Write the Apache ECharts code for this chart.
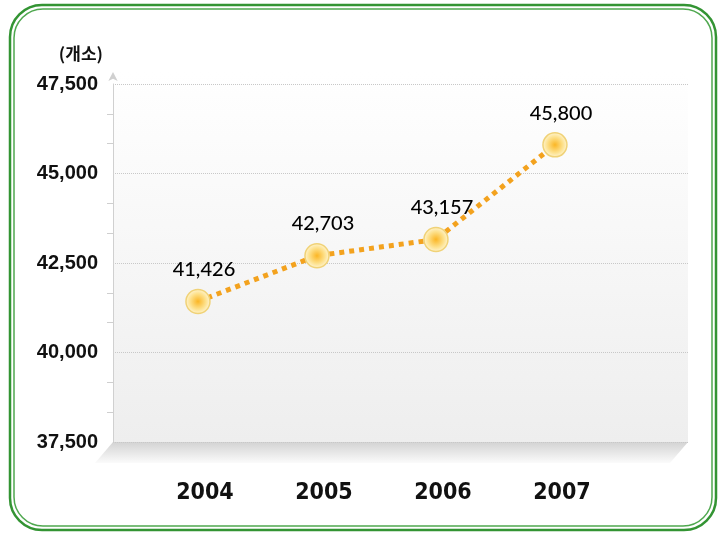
<!DOCTYPE html>
<html>
<head>
<meta charset="utf-8">
<script src="https://cdn.jsdelivr.net/npm/echarts@6/dist/echarts.min.js"></script>
<style>
  html, body { margin: 0; padding: 0; background: #fff; }
  #chart { width: 720px; height: 534px; }
</style>
</head>
<body>
<div id="chart"></div>
<script>
// 연도별 개소 수
var years = [2004, 2005, 2006, 2007];
var counts = [41426, 42703, 43157, 45800];
var yTicks = [37500, 40000, 42500, 45000, 47500];

var chart = echarts.init(document.getElementById('chart'));

var points = [];
for (var i = 0; i < years.length; i++) {
  points.push([years[i], counts[i]]);
}

var option = {
  backgroundColor: '#fff',
  animation: false,
  grid: {
    left: 113,
    right: 32,
    top: 84,
    bottom: 92
  },
  graphic: [
    // plot background
    {
      type: 'rect', z: -10, silent: true,
      shape: { x: 113, y: 72, width: 575, height: 370 },
      style: {
        fill: new echarts.graphic.LinearGradient(0, 0, 0, 1, [
          { offset: 0, color: '#ffffff' },
          { offset: 1, color: '#eeeeee' }
        ])
      }
    },
    // floor
    {
      type: 'polygon', z: -10, silent: true,
      shape: { points: [[113, 442], [688, 442], [670, 463], [95, 463]] },
      style: {
        fill: new echarts.graphic.LinearGradient(0, 0, 0, 1, [
          { offset: 0, color: '#d3d3d3' },
          { offset: 1, color: '#fbfbfb' }
        ])
      }
    },
    // green frame
    {
      type: 'rect', silent: true,
      shape: { x: 10, y: 5, width: 706, height: 525, r: 32 },
      style: { fill: null, stroke: '#339433', lineWidth: 2.5 }
    },
    {
      type: 'rect', silent: true,
      shape: { x: 14, y: 9, width: 698, height: 517, r: 29 },
      style: { fill: null, stroke: '#4fa84f', lineWidth: 1.5 }
    }
  ],
  xAxis: {
    type: 'value',
    min: 2003.286,
    max: 2008.118,
    axisLine: { show: false },
    axisTick: { show: false },
    splitLine: { show: false },
    axisLabel: {
      customValues: years,
      margin: 40,
      padding: [0, 0, 0, 14],
      fontFamily: "'DejaVu Sans Condensed', 'Liberation Sans', sans-serif",
      fontWeight: 'bold',
      fontSize: 23,
      color: '#111',
      formatter: function (v) {
        return String(v);
      }
    }
  },
  yAxis: {
    type: 'value',
    min: 37500,
    max: 47500,
    interval: 2500,
    name: '(개소)',
    nameLocation: 'end',
    nameGap: 22,
    nameTextStyle: {
      align: 'right',
      padding: [0, 10, 0, 0],
      fontFamily: "'Noto Sans CJK KR', sans-serif",
      fontWeight: 'bold',
      fontSize: 17,
      color: '#111'
    },
    axisLine: {
      show: true,
      lineStyle: { color: '#d0d0d0', width: 1 },
      symbol: ['none', 'arrow'],
      symbolSize: [7, 9],
      symbolOffset: [0, 12]
    },
    axisTick: { show: false },
    minorTick: {
      show: true,
      splitNumber: 3,
      length: 6,
      lineStyle: { color: '#cfcfcf' }
    },
    splitLine: {
      show: true,
      lineStyle: { color: '#c8c8c8', type: 'dotted', width: 1 }
    },
    axisLabel: {
      margin: 15,
      fontFamily: "'Liberation Sans', Arial, sans-serif",
      fontWeight: 'bold',
      fontSize: 20,
      color: '#111',
      formatter: function (v) {
        return v.toLocaleString('en-US');
      }
    }
  },
  series: [{
    type: 'line',
    data: points,
    symbol: 'circle',
    symbolSize: 24,
    lineStyle: {
      color: '#f3a21e',
      width: 5,
      type: [5, 5],
      cap: 'butt'
    },
    itemStyle: {
      color: new echarts.graphic.RadialGradient(0.5, 0.5, 0.5, [
        { offset: 0, color: '#fbb625' },
        { offset: 0.6, color: '#fde08a' },
        { offset: 1, color: '#fff6d6' }
      ]),
      borderColor: '#f0d277',
      borderWidth: 1.5
    },
    label: {
      show: true,
      position: 'top',
      distance: 9,
      offset: [6, 0],
      fontFamily: "Lato, 'Noto Sans', sans-serif",
      fontSize: 20,
      fontWeight: 500,
      color: '#000',
      formatter: function (p) {
        return p.value[1].toLocaleString('en-US');
      }
    },
    z: 5
  }]
};

chart.setOption(option);
</script>
</body>
</html>
